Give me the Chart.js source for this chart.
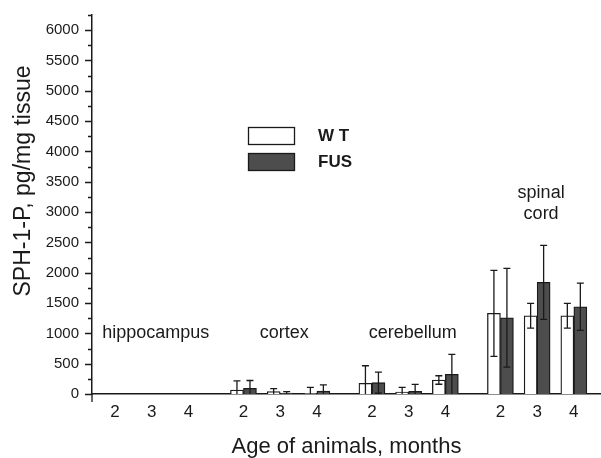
<!DOCTYPE html>
<html>
<head>
<meta charset="utf-8">
<script src="https://cdn.jsdelivr.net/npm/chart.js@4.4.1/dist/chart.umd.min.js"></script>
<style>
    body { margin: 0; background: #fff; }
    #wrap { width: 601px; height: 458px; position: relative; }
</style>
</head>
<body>
<div id="wrap"><canvas id="sphChart"></canvas></div>
<script>
// Brain regions (groups on the x axis) and animal ages inside each group
const regions = ['hippocampus', 'cortex', 'cerebellum', 'spinal\ncord'];
const ages = [2, 3, 4];

// Means and error bars, in order region by region, age 2,3,4
const wtMean  = [0, 0, 0,   65, 38, 5,    176, 33, 231,   1330, 1291, 1291];
const wtErr   = [0, 0, 0,   150, 50, 105, 290, 77, 70,    710, 205, 205];
const fusMean = [0, 0, 0,   93, 16, 50,   187, 44, 324,   1258, 1841, 1439];
const fusErr  = [0, 0, 0,   130, 22, 100, 175, 116, 330,  815, 610, 390];

const yTicks = [0, 500, 1000, 1500, 2000, 2500, 3000, 3500, 4000, 4500, 5000, 5500, 6000];

const FONT = "'Liberation Sans', Arial, sans-serif";
const INK = '#1a1a1a';
const GROUP_STEP = 3.5; // x units between the first age of each region

// x position of every bar pair: one unit per age, gap between regions
const xPos = [];
regions.forEach((r, g) => ages.forEach((a, k) => xPos.push(g * GROUP_STEP + k)));

function points(values) {
    return values.map((v, i) => ({ x: xPos[i], y: v }));
}

// error bars on top of the bars
const errorBars = {
    id: 'errorBars',
    afterDatasetsDraw(chart) {
        const ctx = chart.ctx;
        const y = chart.scales.y;
        ctx.save();
        ctx.strokeStyle = INK;
        ctx.lineWidth = 1.3;
        chart.data.datasets.forEach((ds, d) => {
            const meta = chart.getDatasetMeta(d);
            meta.data.forEach((bar, i) => {
                const e = ds.errors[i];
                if (!e) return;
                const v = ds.data[i].y;
                const top = y.getPixelForValue(v + e);
                const lowVal = Math.max(0, v - e);
                const bottom = y.getPixelForValue(lowVal);
                ctx.beginPath();
                ctx.moveTo(bar.x, top);
                ctx.lineTo(bar.x, bottom);
                ctx.moveTo(bar.x - 3.5, top);
                ctx.lineTo(bar.x + 3.5, top);
                if (lowVal > 0) {
                    ctx.moveTo(bar.x - 3.5, bottom);
                    ctx.lineTo(bar.x + 3.5, bottom);
                }
                ctx.stroke();
            });
        });
        ctx.restore();
    }
};

// y ticks (major/minor), region names, legend and y title
const decorations = {
    id: 'decorations',
    afterDraw(chart) {
        const ctx = chart.ctx;
        const x = chart.scales.x;
        const y = chart.scales.y;
        const area = chart.chartArea;
        ctx.save();
        ctx.strokeStyle = INK;
        ctx.lineWidth = 1.3;

        // ticks on the y axis
        ctx.beginPath();
        y.ticks.forEach(t => {
            const py = Math.round(y.getPixelForValue(t.value)) + 0.5;
            const len = t.value % 500 === 0 ? 7 : 4;
            ctx.moveTo(area.left - len, py);
            ctx.lineTo(area.left, py);
        });
        // axis runs a little below zero
        ctx.moveTo(area.left, area.bottom);
        ctx.lineTo(area.left, area.bottom + 8);
        ctx.stroke();

        // region names
        ctx.fillStyle = INK;
        ctx.font = '18px ' + FONT;
        ctx.textAlign = 'center';
        ctx.textBaseline = 'middle';
        regions.forEach((name, g) => {
            const cx = x.getPixelForValue(g * GROUP_STEP + 1) + 4;
            const lines = name.split('\n');
            if (lines.length === 1) {
                ctx.fillText(name, cx, y.getPixelForValue(1000));
            } else {
                ctx.fillText(lines[0], cx, y.getPixelForValue(3320));
                ctx.fillText(lines[1], cx, y.getPixelForValue(2960));
            }
        });

        // legend
        const boxTop = [127, 153];
        chart.data.datasets.forEach((ds, d) => {
            ctx.fillStyle = ds.backgroundColor;
            ctx.fillRect(248, boxTop[d], 46, 17);
            ctx.strokeRect(248.5, boxTop[d] + 0.5, 46, 17);
            ctx.fillStyle = INK;
            ctx.font = 'bold 17px ' + FONT;
            ctx.textAlign = 'left';
            ctx.fillText(ds.label, 318, boxTop[d] + 9.5);
        });

        // y axis title
        ctx.translate(24, 181);
        ctx.rotate(-Math.PI / 2);
        ctx.font = '23px ' + FONT;
        ctx.textAlign = 'center';
        ctx.fillText('SPH-1-P, pg/mg tissue', 0, 0);
        ctx.restore();
    }
};

const ctx = document.getElementById('sphChart').getContext('2d');

new Chart(ctx, {
    type: 'bar',
    data: {
        datasets: [{
            label: 'W T',
            data: points(wtMean),
            errors: wtErr,
            backgroundColor: '#ffffff',
            borderColor: INK,
            borderWidth: 1.3,
            borderSkipped: 'start',
            barThickness: 13
        }, {
            label: 'FUS',
            data: points(fusMean),
            errors: fusErr,
            backgroundColor: '#4d4d4d',
            borderColor: INK,
            borderWidth: 1.3,
            borderSkipped: 'start',
            barThickness: 13
        }]
    },
    options: {
        responsive: true,
        maintainAspectRatio: false,
        animation: false,
        layout: { padding: { top: 15, left: 0, right: 0, bottom: 0 } },
        plugins: {
            legend: { display: false },
            tooltip: { enabled: false }
        },
        scales: {
            x: {
                type: 'linear',
                offset: false,
                min: -0.626,
                max: 13.24,
                afterBuildTicks: (scale) => {
                    scale.ticks = xPos.map(v => ({ value: v }));
                },
                afterFit: (scale) => {
                    scale.height = 64;
                    scale.paddingLeft = 0;
                    scale.paddingRight = 0;
                },
                grid: { display: false, drawTicks: false },
                border: { display: true, color: INK, width: 1.5 },
                ticks: {
                    autoSkip: false,
                    maxRotation: 0,
                    padding: 8,
                    color: INK,
                    font: { family: FONT, size: 17 },
                    callback: (value, index) => String(ages[index % ages.length])
                },
                title: {
                    display: true,
                    text: 'Age of animals, months',
                    color: INK,
                    font: { family: FONT, size: 22, lineHeight: 1 },
                    padding: { top: 0, bottom: 0 }
                }
            },
            y: {
                min: 0,
                max: 6250,
                afterBuildTicks: (scale) => {
                    const all = [];
                    for (let v = 0; v <= 6250; v += 250) all.push({ value: v });
                    scale.ticks = all;
                },
                afterFit: (scale) => {
                    scale.width = 92;
                    scale.paddingTop = 0;
                    scale.paddingBottom = 0;
                },
                grid: { display: false, drawTicks: false },
                border: { display: true, color: INK, width: 1.5 },
                ticks: {
                    autoSkip: false,
                    padding: 13,
                    color: INK,
                    font: { family: FONT, size: 15 },
                    callback: (value) => yTicks.includes(value) ? String(value) : ''
                }
            }
        }
    },
    plugins: [errorBars, decorations]
});
</script>
</body>
</html>
